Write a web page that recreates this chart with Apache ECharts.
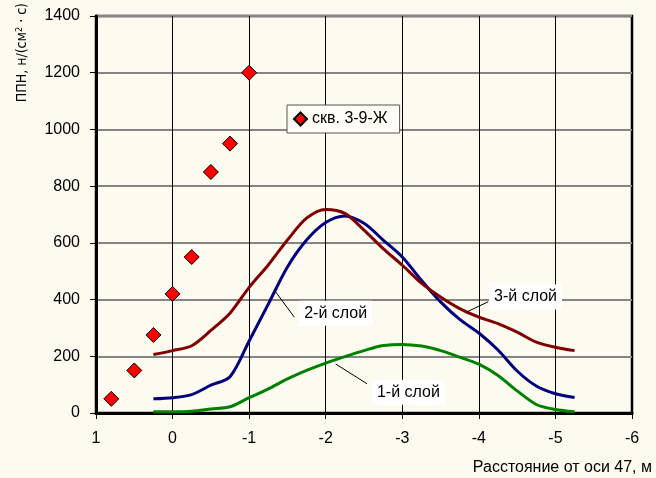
<!DOCTYPE html>
<html>
<head>
<meta charset="utf-8">
<script src="https://cdn.jsdelivr.net/npm/echarts@6/dist/echarts.min.js"></script>
<style>
  html, body { margin: 0; padding: 0; background: #fdfaf0; }
  #chart { width: 656px; height: 478px; }
</style>
</head>
<body>
<div id="chart"></div>
<script>
  // расстояние от оси 47, м
  var xLayers = [0.25, 0, -0.25, -0.5, -0.75, -1, -1.25, -1.5, -1.75, -2, -2.25, -2.5,
    -2.75, -3, -3.25, -3.5, -3.75, -4, -4.25, -4.5, -4.75, -5, -5.25];
  var layer1 = [4, 4, 6, 14, 22, 54, 85, 120, 150, 176, 199, 220, 238, 242, 236, 220, 197, 172, 132, 78, 30, 12, 4];
  var layer2 = [50, 54, 65, 98, 128, 254, 384, 515, 610, 672, 695, 669, 610, 550, 468, 392, 330, 282, 222, 148, 95, 68, 55];
  var layer3 = [206, 220, 237, 291, 352, 443, 522, 610, 687, 718, 704, 645, 580, 521, 458, 409, 368, 338, 315, 285, 250, 232, 220];

  var xWell = [0.8, 0.5, 0.25, 0, -0.25, -0.5, -0.75, -1];
  var well = [50, 150, 275, 420, 550, 850, 950, 1200];

  var yTicks = [0, 1400, 200];
  var xTicks = [-6, 1, 1];

  function pairs(xs, ys) {
    return xs.map(function (x, i) { return [x, ys[i]]; });
  }

  var font = "'Liberation Sans', Arial, sans-serif";
  var narrow = "'Liberation Sans Narrow', 'Arial Narrow', 'DejaVu Sans Condensed', sans-serif";
  var chart = echarts.init(document.getElementById('chart'));

  // подписи слоёв с выносками
  function layerNote(text, from, to, at) {
    return {
      markLine: {
        silent: true,
        symbol: 'none',
        animation: false,
        lineStyle: { color: '#000', width: 1, type: 'solid' },
        label: { show: false },
        data: [[{ coord: from }, { coord: to }]]
      },
      markPoint: {
        silent: true,
        symbol: 'rect',
        symbolSize: 0,
        animation: false,
        label: {
          show: true,
          position: 'inside',
          formatter: text,
          color: '#000',
          fontSize: 16,
          fontFamily: font,
          backgroundColor: '#fff',
          padding: [5, 5, 4, 5]
        },
        data: [{ coord: at }]
      }
    };
  }

  var n1 = layerNote('1-й слой', [-2.13, 173], [-2.54, 103], [-3.08, 73]);
  var n2 = layerNote('2-й слой', [-1.33, 433], [-1.59, 338], [-2.13, 352]);
  var n3 = layerNote('3-й слой', [-3.84, 356], [-4.12, 392], [-4.61, 409]);

  var option = {
    backgroundColor: '#fdfaf0',
    animation: false,
    textStyle: { fontFamily: font },
    grid: {
      left: 96, right: 24, top: 16, bottom: 65,
      containLabel: false,
      outerBoundsMode: 'none',
      show: true,
      borderColor: '#000',
      borderWidth: 2.5,
      backgroundColor: '#fdfaf0'
    },
    legend: {
      data: ['скв. 3-9-Ж'],
      left: 287, top: 105,
      padding: [6, 12, 6, 6],
      backgroundColor: '#fffdf6',
      borderColor: '#555',
      borderWidth: 1,
      borderRadius: 0,
      itemWidth: 13, itemHeight: 13,
      itemGap: 6,
      icon: 'diamond',
      textStyle: { fontSize: 16, color: '#000', fontFamily: font }
    },
    xAxis: {
      type: 'value',
      inverse: true,
      min: xTicks[0], max: xTicks[1], interval: xTicks[2],
      name: 'Расстояние от оси 47, м',
      nameLocation: 'start',
      nameGap: 20,
      nameTextStyle: {
        fontSize: 16, color: '#000', fontFamily: font,
        align: 'right', verticalAlign: 'top', padding: [47, 0, 0, 0]
      },
      axisLine: { show: true, onZero: false, lineStyle: { color: '#000', width: 3 } },
      axisTick: { show: true, length: 6, lineStyle: { color: '#000', width: 1 } },
      axisLabel: { color: '#000', fontSize: 16, margin: 18, fontFamily: font },
      splitLine: { show: true, lineStyle: { color: '#000', width: 1 } }
    },
    yAxis: {
      type: 'value',
      min: yTicks[0], max: yTicks[1], interval: yTicks[2],
      name: 'ППН, н/(см{s|2} · с)',
      nameLocation: 'end',
      nameRotate: 90,
      nameGap: 13,
      nameTextStyle: {
        fontSize: 14, color: '#000', fontFamily: narrow,
        align: 'right', verticalAlign: 'bottom',
        padding: [0, 0, 66, 0],
        rich: { s: { fontSize: 9, verticalAlign: 'top', padding: [0, 0, 6, 0], fontFamily: narrow } }
      },
      axisLine: { show: true, onZero: false, lineStyle: { color: '#000', width: 3 } },
      axisTick: { show: true, length: 6, lineStyle: { color: '#000', width: 1 } },
      axisLabel: {
        color: '#000', fontSize: 16, margin: 16, fontFamily: font,
        formatter: function (v) { return String(v); }
      },
      splitLine: { show: true, lineStyle: { color: '#858585', width: 2 } }
    },
    series: [{
      name: '1-й слой',
      type: 'line',
      data: pairs(xLayers, layer1),
      showSymbol: false,
      smooth: 0.3,
      lineStyle: { color: '#008000', width: 3 },
      itemStyle: { color: '#008000' },
      markLine: n1.markLine,
      markPoint: n1.markPoint
    }, {
      name: '2-й слой',
      type: 'line',
      data: pairs(xLayers, layer2),
      showSymbol: false,
      smooth: 0.3,
      lineStyle: { color: '#000080', width: 3 },
      itemStyle: { color: '#000080' },
      markLine: n2.markLine,
      markPoint: n2.markPoint
    }, {
      name: '3-й слой',
      type: 'line',
      data: pairs(xLayers, layer3),
      showSymbol: false,
      smooth: 0.3,
      lineStyle: { color: '#800000', width: 3 },
      itemStyle: { color: '#800000' },
      markLine: n3.markLine,
      markPoint: n3.markPoint
    }, {
      name: 'скв. 3-9-Ж',
      type: 'scatter',
      data: pairs(xWell, well),
      symbol: 'diamond',
      symbolSize: 15,
      itemStyle: { color: '#ff0000', opacity: 1, borderColor: '#000', borderWidth: 1 },
      z: 5
    }]
  };
  chart.setOption(option);
</script>
</body>
</html>
